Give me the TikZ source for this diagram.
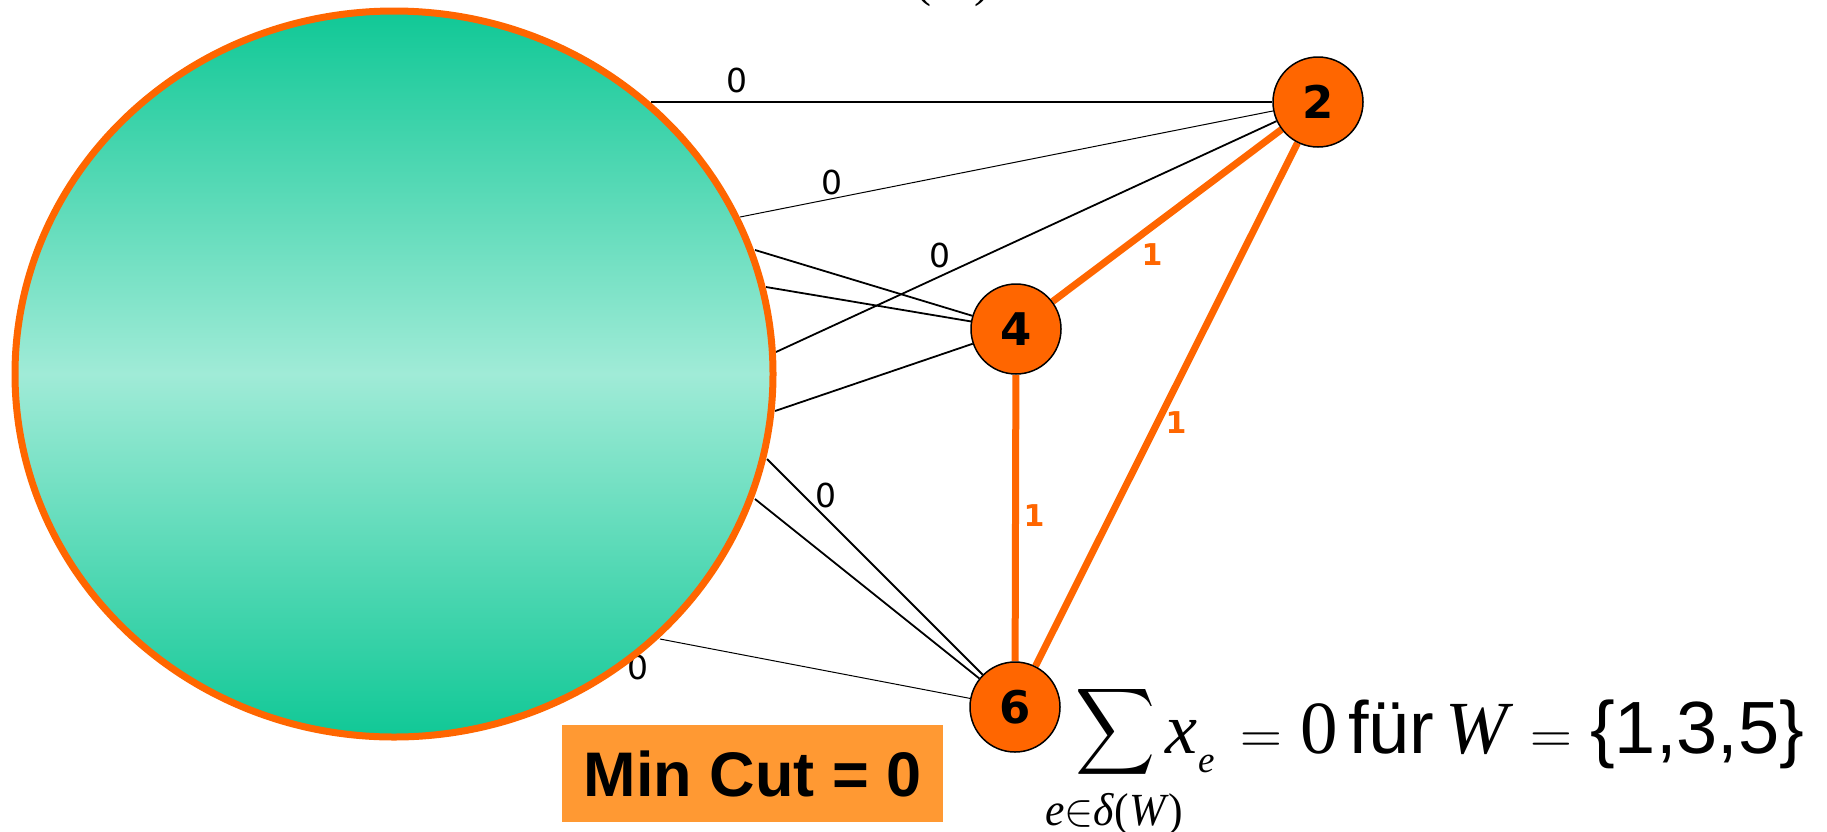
\RequirePackage{fix-cm}
\documentclass[tikz,border=0pt]{standalone}
\usepackage{graphicx}
\usepackage{amsmath}
\usepackage{fontspec}
\setmainfont{Liberation Serif}
\setsansfont{Liberation Sans}
\newfontfamily\dvsans{DejaVu Sans}
\usetikzlibrary{shapes.geometric}
\definecolor{orng}{HTML}{FF6600}
\definecolor{boxorng}{HTML}{FF9933}
\definecolor{tealtop}{HTML}{10C896}
\definecolor{tealmid}{HTML}{A0EBD7}
\pgfdeclarelayer{bg}
\pgfsetlayers{bg,main}
\begin{document}
\begin{tikzpicture}[x=1pt,y=-1pt,
  vert/.style={circle, fill=orng, draw=black, line width=1.5pt, minimum size=90pt, inner sep=0pt, font=\dvsans\bfseries\fontsize{45}{50}\selectfont},
  zero/.style={font=\dvsans\fontsize{33}{36}\selectfont, inner sep=0pt},
  one/.style={font=\dvsans\bfseries\fontsize{30}{34}\selectfont, text=orng, inner sep=0pt},
  edgenorm/.style={line width=1.8pt, black},
  edgethin/.style={line width=1pt, black},
  edgeone/.style={line width=7pt, orng},
  ftxt/.style={anchor=base west, inner sep=0pt},
]
\useasboundingbox (0,0) rectangle (1827,831);
\clip (0,0) rectangle (1827,831);

% the set W
\node[ellipse, draw=orng, line width=7pt, minimum width=758pt, minimum height=726pt, inner sep=0pt,
      top color=tealtop, bottom color=tealtop, middle color=tealmid] (W) at (394,374) {};

% vertices
\node[vert] (n2) at (1318,102) {2};
\node[vert] (n4) at (1016,329) {4};
\node[vert] (n6) at (1015,707) {6};

% edge ends on the border of W
\coordinate (a1) at (651,102);
\coordinate (a2) at (740,217);
\coordinate (a3) at (776,352);
\coordinate (a4) at (755,250);
\coordinate (a5) at (766,287);
\coordinate (a6) at (775,411);
\coordinate (a7) at (767,459);
\coordinate (a8) at (755,499);
\coordinate (a9) at (660,639);

\begin{pgfonlayer}{bg}
\draw[edgenorm] (a1) -- (n2);
\draw[edgethin] (a2) -- (n2);
\draw[edgenorm] (a3) -- (n2);
\draw[edgenorm] (a4) -- (n4);
\draw[edgenorm] (a5) -- (n4);
\draw[edgenorm] (a6) -- (n4);
\draw[edgenorm] (a7) -- (n6);
\draw[edgenorm] (a8) -- (n6);
\draw[edgethin] (a9) -- (n6);
\draw[edgeone] (n4) -- (n2);
\draw[edgeone] (n4) -- (n6);
\draw[edgeone] (n2) -- (n6);
\node[zero] (z9) at (638,667) {0};
\end{pgfonlayer}

% edge labels
\node[zero] (z1) at (737,80) {0};
\node[zero] (z2) at (832,182) {0};
\node[zero] (z3) at (940,255) {0};
\node[zero] (z7) at (826,495) {0};
\node[one] (o42) at (1152,255) {1};
\node[one] (o46) at (1034,516) {1};
\node[one] (o26) at (1176,423) {1};

% min cut box
\node[fill=boxorng, minimum width=381pt, minimum height=97pt, inner sep=0pt,
      font=\sffamily\bfseries\fontsize{63}{70}\selectfont] (mc) at (752.5,773.5) {Min Cut = 0};

% formula
\node[inner sep=0pt] (fsum) at (1116,731.5)
  {\resizebox*{80pt}{97pt}{$\displaystyle\sum$}};
\node[ftxt, font=\fontsize{46}{50}\selectfont] (fsub) at (1045,825)
  {\scalebox{0.95}[1]{\textit{e}$\in$\textit{δ}(\textit{W})}};
\node[ftxt, font=\fontsize{72}{78}\selectfont] (fx) at (1165,753) {\textit{x}};
\node[ftxt, font=\fontsize{37}{40}\selectfont] (fe) at (1198,772) {\textit{e}};
\node[ftxt, font=\fontsize{58}{62}\selectfont] (feq1) at (1240,753) {$=$};
\node[ftxt, font=\fontsize{75}{80}\selectfont] (fzero) at (1300,753) {0};
\node[ftxt, font=\sffamily\fontsize{74}{80}\selectfont] (ffur) at (1348,753) {für};
\node[ftxt, font=\fontsize{75}{80}\selectfont] (fW) at (1445,753) {\textit{W}};
\node[ftxt, font=\fontsize{58}{62}\selectfont] (feq2) at (1530,753) {$=$};
\node[ftxt, font=\sffamily\fontsize{74}{80}\selectfont] (fset) at (1590,753) {\{1,3,5\}};

% cut-off subscript at the top
\node[anchor=base east, inner sep=0pt, font=\fontsize{48}{52}\selectfont] (topsub) at (991,-4)
  {\textit{e}$\in$\textit{δ}(\textit{W})};
\end{tikzpicture}
\end{document}
